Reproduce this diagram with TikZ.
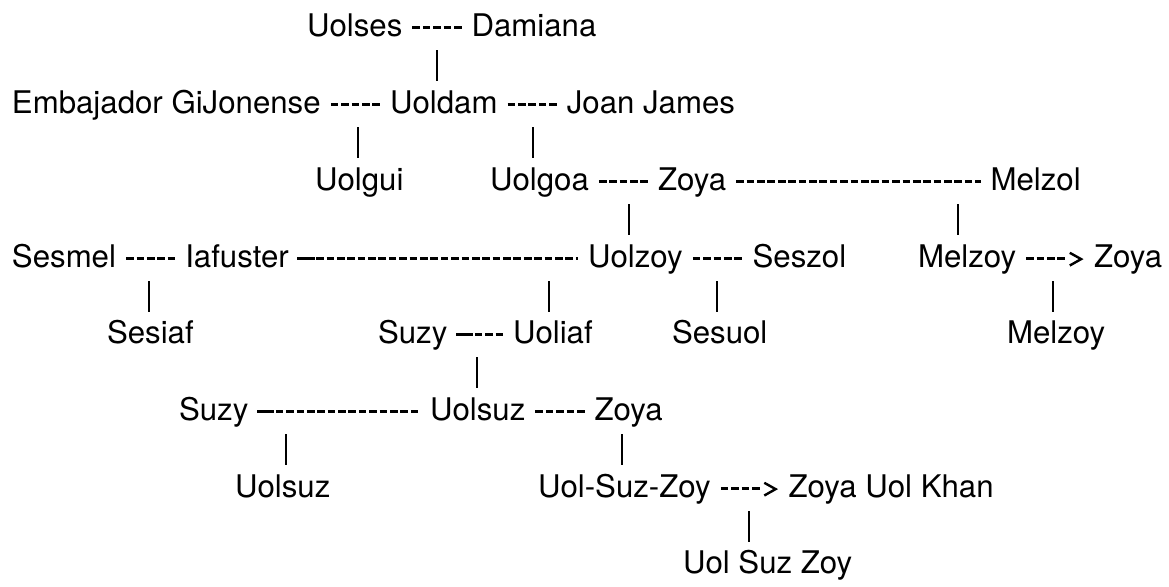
\documentclass[tikz,border=0pt]{standalone}
\usepackage{fontspec}
\setmainfont{TeX Gyre Heros}
\usetikzlibrary{calc}
\tikzset{
  person/.style={anchor=base west, inner sep=0pt, outer sep=0pt,
    font=\fontsize{23.4pt}{28pt}\selectfont, text=black},
  hy/.style={line width=2.1pt, dash pattern=on 5.73pt off 2.06pt},
  endash/.style={line width=1.75pt},
  pipe/.style={line width=1.7pt},
  chevron/.style={line width=1.8pt, line join=miter},
}
% couple link made of hyphens
\newcommand\marry[2]{\draw[hy] ($(#1.base east)+(10.1,-8.6)$) -- ($(#2.base west)+(-10.1,-8.6)$);}
% couple link starting with an en dash
\newcommand\marryen[2]{\draw[endash] ($(#1.base east)+(8.7,-8.6)$) -- ++(17.3,0);
  \draw[hy] ($(#1.base east)+(27.4,-8.6)$) -- ($(#2.base west)+(-10.1,-8.6)$);}
% "---->" link
\newcommand\becomes[2]{\draw[hy] ($(#1.base east)+(10.1,-8.6)$) -- ++(38.8,0);
  \draw[chevron] ($(#2.base west)+(-24.2,-14.2)$) -- ($(#2.base west)+(-12.9,-7.9)$) -- ($(#2.base west)+(-24.2,-1.5)$);}
% vertical descent bar below a text row with baseline #2
\newcommand\drop[2]{\draw[pipe] (#1,#2+14.2) -- (#1,#2+45.4);}
\begin{document}
\begin{tikzpicture}[x=0.75pt,y=-0.75pt]
\fill[white] (0,0) rectangle (1169,586);
\useasboundingbox (0,0) rectangle (1169,586);

% row 1
\node[person] (uolses) at (307,36) {Uolses};
\node[person] (damiana) at (471.6,36) {Damiana};
% row 2
\node[person] (embajador) at (12,113) {Embajador GiJonense};
\node[person] (uoldam) at (390,113) {Uoldam};
\node[person] (joan) at (566.8,113) {Joan James};
% row 3
\node[person] (uolgui) at (315,190) {Uolgui};
\node[person] (uolgoa) at (490,190) {Uolgoa};
\node[person] (zoyaA) at (658.1,190) {Zoya};
\node[person] (melzol) at (990.6,190) {Melzol};
% row 4
\node[person] (sesmel) at (12,267) {Sesmel};
\node[person] (iafuster) at (185.3,267) {Iafuster};
\node[person] (uolzoy) at (588,267) {Uolzoy};
\node[person] (seszol) at (752.6,267) {Seszol};
\node[person] (melzoyA) at (918,267) {Melzoy};
\node[person] (zoyaB) at (1094,267) {Zoya};
% row 5
\node[person] (sesiaf) at (107,343) {Sesiaf};
\node[person] (suzyA) at (378,343) {Suzy};
\node[person] (uoliaf) at (513,343) {Uoliaf};
\node[person] (sesuol) at (672,343) {Sesuol};
\node[person] (melzoyB) at (1007,343) {Melzoy};
% row 6
\node[person] (suzyB) at (179,420) {Suzy};
\node[person] (uolsuzA) at (430,420) {Uolsuz};
\node[person] (zoyaC) at (594.6,420) {Zoya};
% row 7
\node[person] (uolsuzB) at (235,497) {Uolsuz};
\node[person] (uolsuzzoy) at (538,497) {Uol-Suz-Zoy};
\node[person] (zoyakhan) at (788.5,497) {Zoya Uol Khan};
% row 8
\node[person] (uolsuzzoyB) at (683,573) {Uol Suz Zoy};

% couple links
\marry{uolses}{damiana}
\marry{embajador}{uoldam}
\marry{uoldam}{joan}
\marry{uolgoa}{zoyaA}
\marry{zoyaA}{melzol}
\marry{sesmel}{iafuster}
\marryen{iafuster}{uolzoy}
\marry{uolzoy}{seszol}
\marryen{suzyA}{uoliaf}
\marryen{suzyB}{uolsuzA}
\marry{uolsuzA}{zoyaC}
% name changes
\becomes{melzoyA}{zoyaB}
\becomes{uolsuzzoy}{zoyakhan}

% descent bars
\drop{437}{36}
\drop{358}{113}
\drop{533}{113}
\drop{629}{190}
\drop{958}{190}
\drop{149}{267}
\drop{549}{267}
\drop{717}{267}
\drop{1053}{267}
\drop{477}{343}
\drop{286}{420}
\drop{622}{420}
\drop{749}{497}
\end{tikzpicture}
\end{document}
